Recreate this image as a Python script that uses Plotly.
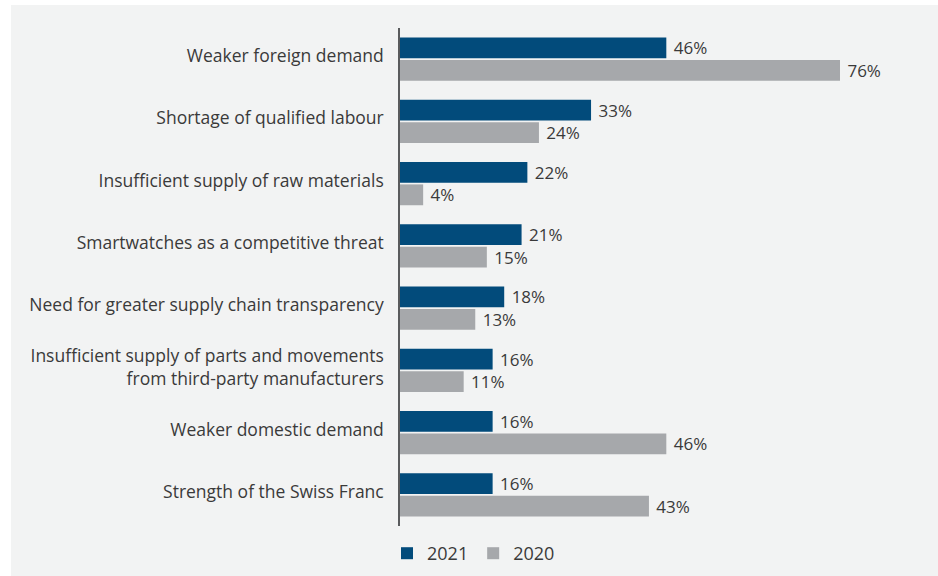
import plotly.graph_objects as go

categories = [
    "Weaker foreign demand",
    "Shortage of qualified labour",
    "Insufficient supply of raw materials",
    "Smartwatches as a competitive threat",
    "Need for greater supply chain transparency",
    "Insufficient supply of parts and movements<br>from third-party manufacturers",
    "Weaker domestic demand",
    "Strength of the Swiss Franc",
]
values_2021 = [46, 33, 22, 21, 18, 16, 16, 16]
values_2020 = [76, 24, 4, 15, 13, 11, 46, 43]
series_names = ["2021", "2020"]

W, H = 938, 576
# plot area in pixels
PX0, PX1 = 400, 900
PY0, PY1 = 28, 526

BLUE = "#024b7b"
GREY = "#a6a8ab"
TXT = "#3a3a3a"
BG = "#f2f3f3"
FONT = "Open Sans"
FS = 17

def fx(p):
    return p / W

def fy(p):
    return (H - p) / H

fig = go.Figure()
for name, vals, col in [(series_names[0], values_2021, BLUE), (series_names[1], values_2020, GREY)]:
    fig.add_trace(go.Bar(
        name=name, y=categories, x=vals, orientation="h",
        marker=dict(color=col, line=dict(width=0)),
        text=vals, texttemplate="\u00a0%{x}%", textposition="outside",
        constraintext="none",
        textfont=dict(family=FONT, size=FS, color=TXT),
        cliponaxis=False,
    ))

fig.update_layout(
    width=W, height=H,
    margin=dict(l=0, r=0, t=0, b=0, pad=0, autoexpand=False),
    paper_bgcolor=BG,
    plot_bgcolor="rgba(0,0,0,0)",
    barmode="group", bargap=0.28, bargroupgap=0.07,
    font=dict(family=FONT, size=FS, color=TXT),
    xaxis=dict(domain=[fx(PX0), fx(PX1)], range=[0, (PX1 - PX0) / (440 / 76)],
               visible=False, fixedrange=True, automargin=False),
    yaxis=dict(domain=[fy(PY1), fy(PY0)], autorange="reversed", automargin=False,
               showline=True, linecolor="#5a5b5d", linewidth=1.5,
               ticks="", showgrid=False, ticklabelstandoff=11, ticklabelshift=3,
               tickfont=dict(family=FONT, size=17.5, color=TXT)),
    legend=dict(orientation="h", x=fx(387), xanchor="left", y=fy(572), yanchor="bottom",
                font=dict(family=FONT, size=18, color=TXT), bgcolor="rgba(0,0,0,0)",
                itemwidth=30, traceorder="normal"),
    shapes=[
        dict(type="rect", xref="paper", yref="paper", layer="below",
             x0=-0.01, x1=fx(11), y0=-0.01, y1=1.01,
             fillcolor="white", line=dict(width=0)),
        dict(type="rect", xref="paper", yref="paper", layer="below",
             x0=-0.01, x1=1.01, y0=fy(5), y1=1.01,
             fillcolor="white", line=dict(width=0)),
    ],
)

fig.write_html("out.html", config={"displayModeBar": False},
               post_script="document.body.style.margin='0px';"
                           "document.body.style.background='%s';" % BG)
